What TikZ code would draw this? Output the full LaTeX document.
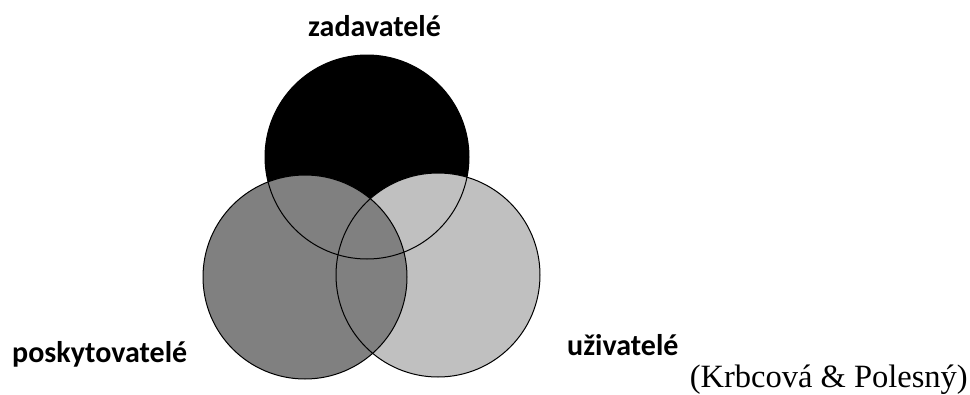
\documentclass[tikz,border=0pt]{standalone}
\usepackage{fontspec}
\setmainfont{Liberation Serif}
\newfontfamily\labelfont{Carlito}
\usetikzlibrary{positioning}
\definecolor{providergray}{RGB}{128,128,128}
\definecolor{usergray}{RGB}{192,192,192}
\tikzset{
  setcircle/.style = {
    circle,
    inner sep=0pt,
    minimum size=204pt
  },
  setoutline/.style = {
    draw=black,
    line width=1pt
  },
  setlabel/.style = {
    font=\labelfont\bfseries\fontsize{30}{32}\selectfont,
    inner sep=0pt
  },
  sourcelabel/.style = {
    font=\fontsize{32.5}{35}\selectfont,
    inner sep=0pt
  }
}
\begin{document}
\begin{tikzpicture}[x=1pt,y=-1pt]
    \useasboundingbox (0,0) rectangle (970,394);
    % filled sets, later ones cover earlier ones
    \node[setcircle, fill=black] (zad) at (367,157) {};
    \node[setcircle, fill=usergray] (uziv) at (438,275) {};
    \node[setcircle, fill=providergray] (posk) at (305,277) {};
    % outlines on top
    \draw[setoutline] (zad.center) circle[radius=102];
    \draw[setoutline] (uziv.center) circle[radius=102];
    \draw[setoutline] (posk.center) circle[radius=102];
    % labels
    \node[setlabel, anchor=base] (zadlabel) at (374.5,36) {zadavatelé};
    \node[setlabel, anchor=base west] (posklabel) at (12,362) {poskytovatelé};
    \node[setlabel, anchor=base west] (uzivlabel) at (567,355) {uživatelé};
    \node[sourcelabel, anchor=base east] (source) at (968,387) {(Krbcová \& Polesný)};
  \end{tikzpicture}
\end{document}
